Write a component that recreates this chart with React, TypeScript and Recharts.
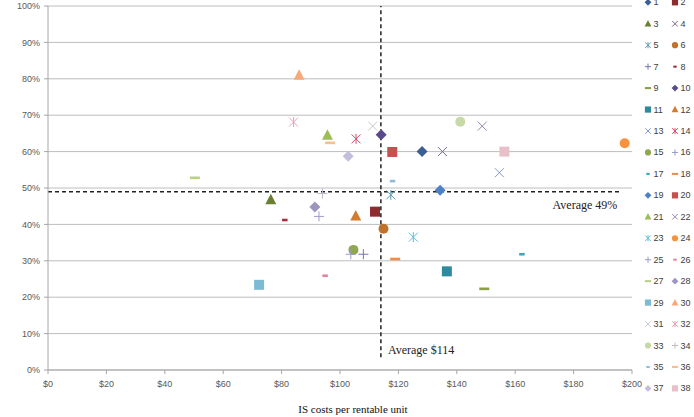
import React from 'react';
import { ScatterChart, Scatter, XAxis, YAxis, CartesianGrid, ReferenceLine } from 'recharts';

// Series ids (legend entries) and their values
const seriesIds = [
  1, 2, 3, 4, 5, 6, 7, 8, 9, 10, 11, 12, 13, 14, 15, 16, 17, 18, 19,
  20, 21, 22, 23, 24, 25, 26, 27, 28, 29, 30, 31, 32, 33, 34, 35, 36, 37, 38,
];

// IS costs per rentable unit ($)
const costValues = [
  128.1, 112.0, 76.3, 135.1, 117.4, 114.9, 108.0, 81.1, 149.4, 114.1,
  136.6, 105.4, 154.6, 105.5, 104.6, 103.7, 162.3, 118.9, 134.3, 117.9,
  95.7, 148.7, 125.1, 197.5, 92.8, 94.9, 50.3, 91.4, 72.3, 86.0,
  111.2, 84.1, 141.2, 94.0, 118.0, 96.6, 102.8, 156.3,
];

// Share (%)
const shareValues = [
  60.0, 43.5, 46.8, 60.0, 48.1, 38.8, 31.8, 41.2, 22.3, 64.6,
  27.1, 42.3, 54.2, 63.5, 33.0, 31.8, 31.8, 30.5, 49.4, 59.9,
  64.5, 67.0, 36.5, 62.3, 42.2, 25.9, 52.8, 44.8, 23.4, 81.0,
  67.0, 68.1, 68.2, 48.5, 51.9, 62.4, 58.7, 60.0,
];

const averageCost = 114;
const averageShare = 49;

const xTicks = [0, 20, 40, 60, 80, 100, 120, 140, 160, 180, 200];
const yTicks = [0, 10, 20, 30, 40, 50, 60, 70, 80, 90, 100];

// Marker styles per series
const markerKinds = [
  'diamond', 'square', 'triangle', 'x', 'asterisk', 'circle', 'plus', 'dashShort', 'dashLong',
];
const markerColors = [
  '#3A5F95', '#8E2B2E', '#6B7F30', '#6F6D82', '#5E9CB4', '#C0712C', '#7476AE', '#A4303F', '#8A9E45', '#5A4A8C',
  '#2E8A9D', '#D47B2E', '#7F9BD0', '#D24E6A', '#8FA84E', '#9A9AC4', '#3FA3C8', '#EE8C4A', '#4D80C6', '#C4504F',
  '#9DBD58', '#9489B8', '#5ABFDD', '#F7923F', '#9C9CD0', '#E2839A', '#BCCF86', '#9E95BE', '#7DBAD6', '#F8A97A',
  '#C9C9D2', '#E9A2B6', '#C8D8A6', '#BBBBCB', '#8FBBD3', '#F7BE96', '#C4BDDB', '#E8C0C9',
];

function kindOf(i: number) {
  return markerKinds[i % markerKinds.length];
}

function Glyph({ kind, color, cx, cy, s = 1 }: { kind: string; color: string; cx: number; cy: number; s?: number }) {
  const h = 5 * s;
  switch (kind) {
    case 'diamond':
      return <polygon points={`${cx},${cy - h * 1.1} ${cx + h * 1.1},${cy} ${cx},${cy + h * 1.1} ${cx - h * 1.1},${cy}`} fill={color} />;
    case 'square':
      return <rect x={cx - h} y={cy - h} width={2 * h} height={2 * h} fill={color} />;
    case 'triangle':
      return <polygon points={`${cx},${cy - h * 1.2} ${cx + h * 1.1},${cy + h * 0.9} ${cx - h * 1.1},${cy + h * 0.9}`} fill={color} />;
    case 'x':
      return (
        <g stroke={color} strokeWidth={1}>
          <line x1={cx - h * 0.9} y1={cy - h * 0.9} x2={cx + h * 0.9} y2={cy + h * 0.9} />
          <line x1={cx - h * 0.9} y1={cy + h * 0.9} x2={cx + h * 0.9} y2={cy - h * 0.9} />
        </g>
      );
    case 'asterisk':
      return (
        <g stroke={color} strokeWidth={1}>
          <line x1={cx - h * 0.9} y1={cy - h * 0.9} x2={cx + h * 0.9} y2={cy + h * 0.9} />
          <line x1={cx - h * 0.9} y1={cy + h * 0.9} x2={cx + h * 0.9} y2={cy - h * 0.9} />
          <line x1={cx} y1={cy - h} x2={cx} y2={cy + h} />
        </g>
      );
    case 'circle':
      return <circle cx={cx} cy={cy} r={h} fill={color} />;
    case 'plus':
      return (
        <g stroke={color} strokeWidth={1}>
          <line x1={cx - h} y1={cy} x2={cx + h} y2={cy} />
          <line x1={cx} y1={cy - h} x2={cx} y2={cy + h} />
        </g>
      );
    case 'dashShort':
      return <rect x={cx - h * 0.55} y={cy - 1.3 * Math.max(s, 0.8)} width={h * 1.1} height={2.6 * Math.max(s, 0.8)} fill={color} />;
    default:
      return <rect x={cx - h} y={cy - 1.3 * Math.max(s, 0.8)} width={2 * h} height={2.6 * Math.max(s, 0.8)} fill={color} />;
  }
}

const tickFont = { fontFamily: 'Liberation Sans, Arial, sans-serif', fontSize: 9, fill: '#595959' };
const serif = 'Liberation Serif, Times New Roman, serif';

export default function App() {
  const rows = Math.ceil(seriesIds.length / 2);
  return (
    <div style={{ position: 'absolute', left: 0, top: 0, width: 694, height: 417, background: '#fff' }}>
      <ScatterChart width={694} height={417} margin={{ top: 6, right: 62, bottom: 17, left: 0 }}>
        <CartesianGrid horizontal vertical={false} stroke="#BDBDBD" strokeWidth={1} />
        <XAxis
          type="number"
          dataKey="x"
          domain={[0, 200]}
          ticks={xTicks}
          interval={0}
          height={30}
          tickSize={4}
          tickMargin={7}
          tick={tickFont}
          stroke="#A6A6A6"
          tickFormatter={(v: number) => `$${v}`}
        />
        <YAxis
          type="number"
          dataKey="y"
          domain={[0, 100]}
          ticks={yTicks}
          interval={0}
          width={48}
          tickSize={4}
          tickMargin={4}
          tick={tickFont}
          stroke="#A6A6A6"
          tickFormatter={(v: number) => `${v}%`}
        />
        <ReferenceLine
          segment={[{ x: 0, y: averageShare }, { x: 196, y: averageShare }]}
          stroke="#222"
          strokeWidth={1.5}
          strokeDasharray="4 3"
        />
        <ReferenceLine
          segment={[{ x: averageCost, y: 3.5 }, { x: averageCost, y: 100 }]}
          stroke="#222"
          strokeWidth={1.5}
          strokeDasharray="4 3"
        />
        {seriesIds.map((id, i) => (
          <Scatter
            key={id}
            name={String(id)}
            data={[{ x: costValues[i], y: shareValues[i] }]}
            isAnimationActive={false}
            shape={(p: any) => <Glyph kind={kindOf(i)} color={markerColors[i]} cx={p.cx} cy={p.cy} />}
          />
        ))}
        {/* average annotations, anchored to the end points of the reference lines */}
        <Scatter
          data={[{ x: 196, y: averageShare }]}
          isAnimationActive={false}
          shape={(p: any) => (
            <text x={p.cx - 3} y={p.cy + 17} textAnchor="end" fontFamily={serif} fontSize={12} fill="#222">
              {`Average ${averageShare}%`}
            </text>
          )}
        />
        <Scatter
          data={[{ x: averageCost, y: 3.5 }]}
          isAnimationActive={false}
          shape={(p: any) => (
            <text x={p.cx + 7} y={p.cy - 3} textAnchor="start" fontFamily={serif} fontSize={12} fill="#222">
              {`Average $${averageCost}`}
            </text>
          )}
        />
      </ScatterChart>
      <svg width={694} height={417} style={{ position: 'absolute', left: 0, top: 0, pointerEvents: 'none' }}>
        <text x={353} y={413} textAnchor="middle" fontFamily={serif} fontSize={11} fill="#111">
          IS costs per rentable unit
        </text>
        {Array.from({ length: rows }).map((_, r) =>
          [0, 1].map((c) => {
            const i = r * 2 + c;
            if (i >= seriesIds.length) return null;
            const cy = 2.3 + r * 21.45;
            const mx = c === 0 ? 648 : 675;
            return (
              <g key={i}>
                <Glyph kind={kindOf(i)} color={markerColors[i]} cx={mx} cy={cy} s={0.62} />
                <text
                  x={mx + 5.5}
                  y={cy}
                  dominantBaseline="central"
                  fontFamily="Liberation Sans, Arial, sans-serif"
                  fontSize={9}
                  fill="#404040"
                >
                  {seriesIds[i]}
                </text>
              </g>
            );
          })
        )}
      </svg>
    </div>
  );
}
